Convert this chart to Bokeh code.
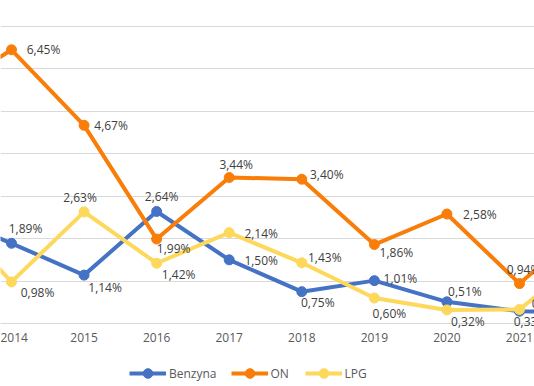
from bokeh.plotting import figure
from bokeh.models import ColumnDataSource, FixedTicker, LabelSet, Legend, LegendItem, Range1d
from bokeh.core.properties import value
from bokeh.embed import file_html
from bokeh.resources import INLINE

# ---- data ----
years = [2013, 2014, 2015, 2016, 2017, 2018, 2019, 2020, 2021, 2022]
benzyna = [2.60, 1.89, 1.14, 2.64, 1.50, 0.75, 1.01, 0.51, 0.29, 0.25]
on = [5.36, 6.45, 4.67, 1.99, 3.44, 3.40, 1.86, 2.58, 0.94, 2.42]
lpg = [2.80, 0.98, 2.63, 1.42, 2.14, 1.43, 0.60, 0.32, 0.33, 1.70]
series_names = ["Benzyna", "ON", "LPG"]
grid_ticks = [0, 1, 2, 3, 4, 5, 6, 7]

# label offsets (screen px, dx right, dy down) for labelled years 2014..2021
label_years = years[1:9]
off_benzyna = [(14, -15), (21, 12), (5, -15), (32, 1), (16, 11), (26, -2), (18, -10), (29, -8)]
off_on = [(32, 0), (27, 0), (17, 9), (7, -13), (25, -5), (22, 8), (33, 0), (4, -14)]
off_lpg = [(26, 11), (-4, -14), (22, 11), (32, 1), (23, -5), (15, 15), (21, 12), (11, 12)]

colors = {"Benzyna": "#4472C4", "ON": "#F97D09", "LPG": "#FDD85A"}
FONT = "Open Sans"

p = figure(width=534, height=386, output_backend="svg", toolbar_location=None,
           x_range=Range1d(2013.8484, 2021.2068), y_range=Range1d(-1.4848, 7.612),
           y_axis_location=None,
           min_border_left=0, min_border_right=0, min_border_top=0, min_border_bottom=0)
p.outline_line_color = None
p.background_fill_color = "white"
p.border_fill_color = "white"
p.xgrid.visible = False
p.ygrid.ticker = FixedTicker(ticks=grid_ticks)
p.ygrid.grid_line_color = "#d9d9d9"
p.ygrid.grid_line_width = 1

ax = p.xaxis[0]
ax.fixed_location = 0
ax.ticker = FixedTicker(ticks=years)
ax.axis_line_color = "#d9d9d9"
ax.axis_line_width = 1
ax.major_tick_line_color = None
ax.minor_tick_line_color = None
ax.major_tick_out = 0
ax.major_tick_in = 0
ax.major_label_standoff = 10
ax.major_label_text_font = FONT
ax.major_label_text_font_size = "12px"
ax.major_label_text_color = "#595959"

items = []
for name, vals in [("Benzyna", benzyna), ("ON", on), ("LPG", lpg)]:
    src = ColumnDataSource(dict(x=years, y=vals))
    c = colors[name]
    ln = p.line("x", "y", source=src, line_color=c, line_width=4, line_join="round")
    sc = p.scatter("x", "y", source=src, size=10, marker="circle", fill_color=c, line_color=c)
    items.append(LegendItem(label=name, renderers=[ln, sc]))

for name, vals, offs in [("Benzyna", benzyna, off_benzyna), ("ON", on, off_on), ("LPG", lpg, off_lpg)]:
    lv = vals[1:9]
    lsrc = ColumnDataSource(dict(
        x=label_years, y=lv,
        text=[("%.2f" % v).replace(".", ",") + "%" for v in lv],
        dx=[o[0] for o in offs], dy=[-o[1] for o in offs]))
    p.add_layout(LabelSet(x="x", y="y", text="text", source=lsrc, x_offset="dx", y_offset="dy",
                          text_font=value(FONT), text_font_size="12px", text_color="#404040",
                          text_align="center", text_baseline="middle"))

legend = Legend(items=items, orientation="horizontal", location=(129, 1),
                glyph_width=37, glyph_height=24, label_standoff=3, spacing=14,
                padding=0, margin=0, border_line_color=None, background_fill_alpha=0,
                label_text_font=FONT, label_text_font_size="12px", label_text_color="#595959")
p.add_layout(legend, "center")

open("out.html", "w").write(file_html(p, INLINE))
